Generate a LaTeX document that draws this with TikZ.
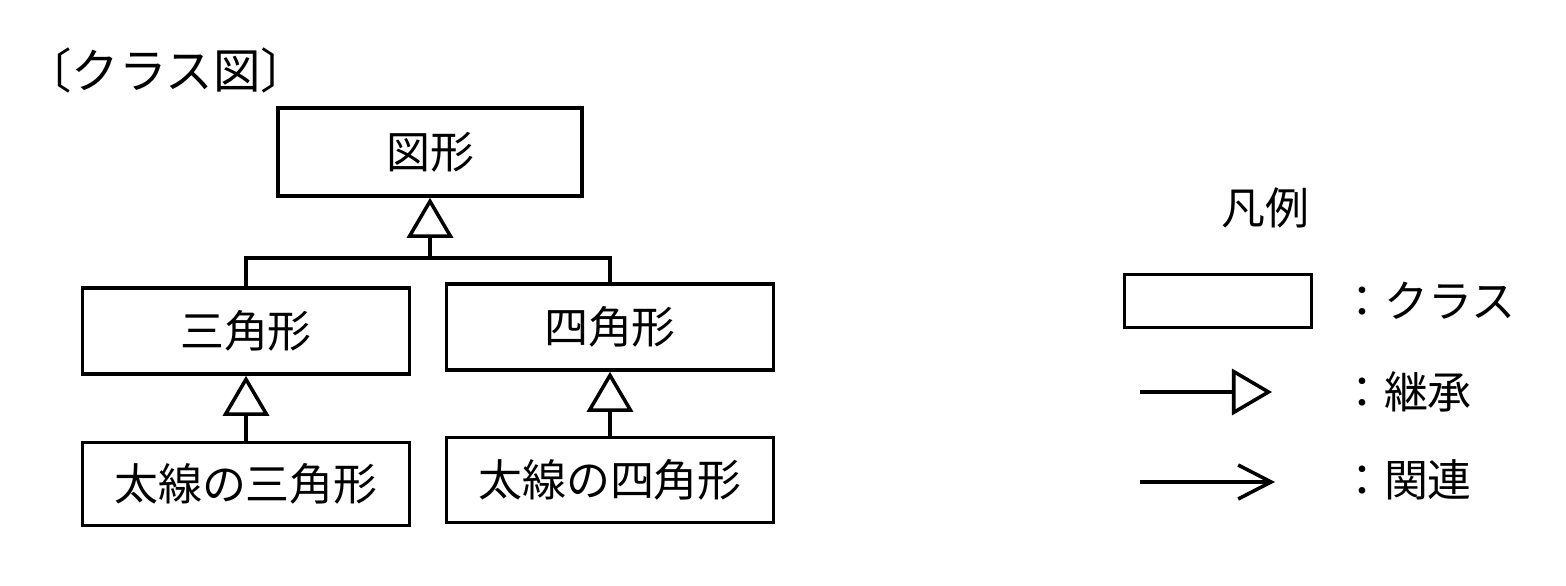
\documentclass[tikz,border=0pt]{standalone}
\usepackage{fontspec}
\newfontfamily\jfont{Noto Sans CJK JP}
\usetikzlibrary{arrows.meta,positioning}

\begin{document}
\begin{tikzpicture}
[x=0.01cm,y=-0.01cm,line width=1pt,
cls/.style = {draw, rectangle, minimum width=3.27cm, minimum height=0.86cm, inner sep=0pt, font=\jfont\fontsize{12.5}{14}\selectfont},
lbl/.style = {inner sep=0pt, font=\jfont\fontsize{12.5}{14}\selectfont},
inh/.style = {-{Triangle[open,length=0.4cm,width=0.46cm]}},
asc/.style = {-{Straight Barb[length=0.33cm,width=0.34cm]}},]
\useasboundingbox (0,0) rectangle (1566,586);
\node (title) at (166,70)[lbl,font=\jfont\fontsize{13.5}{16}\selectfont] {〔クラス図〕};
\node (F) at (430,152)[cls,minimum width=3.04cm,minimum height=0.88cm] {図形};
\node (T) at (246,331)[cls] {三角形};
\node (Q) at (610,327)[cls] {四角形};
\node (BT) at (246,484)[cls,minimum height=0.83cm] {太線の三角形};
\node (BQ) at (610,480)[cls,minimum height=0.85cm] {太線の四角形};
\coordinate (J) at (430,258);
\draw[inh] (J) -- (F.south);
\draw (T.north) |- (J) -| (Q.north);
\draw[inh] (BT) -- (T);
\draw[inh] (BQ) -- (Q);
% legend
\node (L) at (1265,208)[lbl] {凡例};
\node (C) at (1218,301)[cls,minimum width=1.87cm,minimum height=0.53cm] {};
\node (Ct) at (1428,301)[lbl] {：クラス};
\coordinate (I1) at (1140,392);
\coordinate (I2) at (1272,392);
\draw[inh] (I1) -- (I2);
\node (It) at (1406,392)[lbl] {：継承};
\coordinate (A1) at (1140,482);
\coordinate (A2) at (1275,482);
\draw[asc] (A1) -- (A2);
\node (At) at (1406,480)[lbl] {：関連};
\end{tikzpicture}
\end{document}
